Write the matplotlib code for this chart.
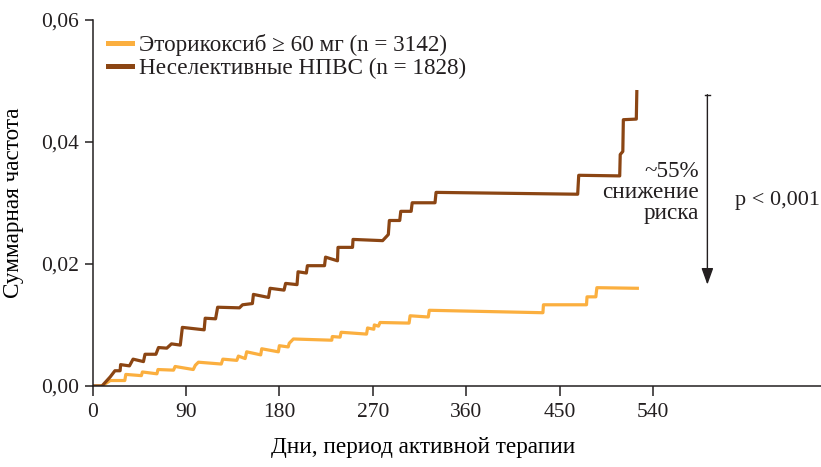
import matplotlib.pyplot as plt
from matplotlib.patches import ArrowStyle

# Cumulative incidence (days, rate)
etori_days = [0, 9, 17, 31, 32, 47, 48, 62, 63, 78, 79.5, 97, 99, 102, 124, 125.5,
              139, 140.5, 147, 148.5, 162, 163, 179, 180, 188.5, 189.5, 193.5, 230.5,
              231, 238.5, 239.5, 264, 265, 271, 271.5, 275.5, 277, 305, 306, 323.5,
              324.5, 434, 434.5, 476, 476.5, 485, 486, 525]
etori_rate = [0, 0, 0.0009, 0.0009, 0.0019, 0.0017, 0.0023, 0.0020, 0.0027, 0.0026,
              0.0032, 0.0027, 0.0034, 0.0039, 0.0036, 0.0044, 0.0042, 0.0049, 0.0045,
              0.0056, 0.0051, 0.0061, 0.0056, 0.0066, 0.0064, 0.0070, 0.0077, 0.0075,
              0.0081, 0.0080, 0.0088, 0.0085, 0.0095, 0.0093, 0.0100, 0.0098, 0.0104,
              0.0103, 0.0115, 0.0113, 0.0124, 0.0120, 0.0133, 0.0133, 0.0146, 0.0146,
              0.0161, 0.0160]

nsaid_days = [0, 9, 17, 21.5, 26.5, 27, 35.5, 39, 49, 50.5, 61, 63.5, 71.5, 76, 84.5,
              86.5, 107.5, 108.5, 118.5, 120.5, 141.5, 144.5, 154, 155, 169.5, 171,
              184.5, 186, 197, 198, 206, 207, 223.5, 224.5, 236, 236.5, 250.5, 251,
              279.5, 285, 286, 296, 297, 307, 308, 330, 331, 467.5, 468.5, 508, 508.5,
              511, 511.5, 524, 524.5]
nsaid_rate = [0, 0, 0.0015, 0.0025, 0.0025, 0.0035, 0.0033, 0.0044, 0.0040, 0.0052,
              0.0052, 0.0063, 0.0062, 0.0069, 0.0067, 0.0096, 0.0092, 0.0111, 0.0110,
              0.0129, 0.0128, 0.0133, 0.0135, 0.0150, 0.0145, 0.0160, 0.0157, 0.0168,
              0.0166, 0.0187, 0.0185, 0.0197, 0.0197, 0.0211, 0.0205, 0.0227, 0.0227,
              0.0240, 0.0238, 0.0248, 0.0271, 0.0271, 0.0286, 0.0286, 0.0300, 0.0300,
              0.0317, 0.0314, 0.0345, 0.0344, 0.0379, 0.0384, 0.0436, 0.0437, 0.0482]

x_ticks = [0, 90, 180, 270, 360, 450, 540]
y_ticks = [0.00, 0.02, 0.04, 0.06]
y_tick_labels = ["0,00", "0,02", "0,04", "0,06"]

ORANGE = "#FBAF3F"
BROWN = "#8B4513"
INK = "#231F20"

plt.rcParams['font.family'] = ['Liberation Serif', 'DejaVu Serif']
plt.rcParams['font.size'] = 15.5
plt.rcParams['text.color'] = INK
TXT = 16.7

fig = plt.figure(figsize=(8.21, 4.67), dpi=100)
ax = fig.add_axes([0.1128, 0.1734, 0.8872, 0.7848])

ax.plot(etori_days, etori_rate, color=ORANGE, lw=2.3, label="Эторикоксиб ≥ 60 мг (n = 3142)")
ax.plot(nsaid_days, nsaid_rate, color=BROWN, lw=2.3, label="Неселективные НПВС (n = 1828)")

ax.set_xlim(0, 702)
ax.set_ylim(0, 0.06)
ax.set_xticks(x_ticks)
ax.set_yticks(y_ticks)
ax.set_yticklabels(y_tick_labels)

for side in ["top", "right"]:
    ax.spines[side].set_visible(False)
for side in ["left", "bottom"]:
    ax.spines[side].set_linewidth(1.1)
    ax.spines[side].set_color(INK)
ax.tick_params(axis='x', direction='out', length=7, width=1.1, color=INK, pad=5, labelcolor=INK)
ax.tick_params(axis='y', direction='out', length=6, width=1.1, color=INK, pad=4, labelcolor=INK)

ax.set_xlabel("Дни, период активной терапии", fontsize=TXT)
ax.xaxis.set_label_coords(0.4536, -0.14)
ax.set_ylabel("Суммарная частота", fontsize=TXT)
ax.yaxis.set_label_coords(-0.094, 0.5)

leg = ax.legend(loc="upper left", bbox_to_anchor=(0.021, 0.96), frameon=False,
                borderpad=0, borderaxespad=0, handlelength=1.05, handletextpad=0.3,
                labelspacing=0.08, fontsize=TXT)
for h in leg.get_lines():
    h.set_linewidth(3.6)

# arrow showing risk reduction
arrow_x = 592.5
ax.annotate("", xy=(arrow_x, 0.0166), xytext=(arrow_x, 0.0477),
            arrowprops=dict(arrowstyle=ArrowStyle('-|>', head_length=0.5, head_width=0.18),
                            mutation_scale=20, color=INK, lw=1.0, shrinkA=0, shrinkB=0))
ax.plot([arrow_x - 2.5, arrow_x + 2.5], [0.0477, 0.0477], color=INK, lw=1.0)

ax.text(584.5, 0.0316, "~55%\nснижение\nриска", ha="right", va="center",
        linespacing=1.0, fontsize=TXT)
ax.text(619, 0.0303, "p < 0,001", ha="left", va="center", clip_on=False, fontsize=16)

fig.savefig("out.png", dpi=100)
